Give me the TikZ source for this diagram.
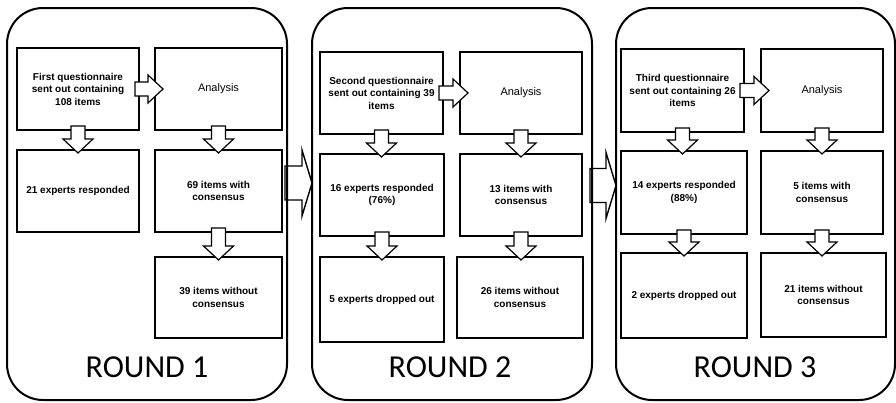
\documentclass[tikz,border=0pt]{standalone}
\usepackage{fontspec}
\setmainfont{Liberation Sans}
\newfontfamily\roundfont{Carlito}
\usetikzlibrary{calc,backgrounds}
\tikzset{
  roundbox/.style={draw, line width=2pt, rounded corners=36pt, inner sep=0pt, outer sep=0pt},
  stepbox/.style={draw, line width=1.2pt, inner sep=0pt, outer sep=0pt, align=center,
    font=\fontsize{10}{12.5}\selectfont\bfseries},
  plainbox/.style={stepbox, font=\fontsize{11}{12.5}\selectfont},
  blk/.style={draw, fill=white, line width=1.2pt, line join=miter},
  bigblk/.style={draw, fill=white, line width=1.4pt, line join=miter},
  roundlabel/.style={font=\roundfont\fontsize{32}{32}\selectfont, inner sep=0pt}
}
\newcommand\dnarr[2]{%
  \draw[blk] let \p1=(#1.south), \p2=(#2.north) in
    (\x1-7pt,\y1+4pt) -- (\x1-7pt,\y2+11pt) -- (\x1-15pt,\y2+11pt) -- (\x1,\y2-3pt)
    -- (\x1+15pt,\y2+11pt) -- (\x1+7pt,\y2+11pt) -- (\x1+7pt,\y1+4pt) -- cycle;}
\newcommand\rtarr[2]{%
  \draw[blk] let \p1=(#1.east), \p2=(#2.west) in
    (\x1-4pt,\y1+7pt) -- (\x2-7pt,\y1+7pt) -- (\x2-7pt,\y1+14pt) -- (\x2+8pt,\y1)
    -- (\x2-7pt,\y1-14pt) -- (\x2-7pt,\y1-7pt) -- (\x1-4pt,\y1-7pt) -- cycle;}
\newcommand\bigarr[3]{%
  \draw[bigblk] let \p1=(#1.east), \p2=(#2.west) in
    (\x1-2pt,\y1+#3+17pt) -- (\x2-10pt,\y1+#3+17pt) -- (\x2-10pt,\y1+#3+33pt) -- (\x2,\y1+#3)
    -- (\x2-10pt,\y1+#3-33pt) -- (\x2-10pt,\y1+#3-17pt) -- (\x1-2pt,\y1+#3-17pt) -- cycle;}
\begin{document}
\begin{tikzpicture}[x=1pt,y=-1pt]
\useasboundingbox (0,0) rectangle (896,402);

% rounds
\node[roundbox, minimum width=280pt, minimum height=392pt] (R1) at (147,204) {};
\node[roundbox, minimum width=280pt, minimum height=392pt] (R2) at (452,204) {};
\node[roundbox, minimum width=279pt, minimum height=392pt] (R3) at (755.5,204) {};
\node[roundlabel] (L1) at (147,367) {ROUND 1};
\node[roundlabel] (L2) at (450,367) {ROUND 2};
\node[roundlabel] (L3) at (755,367) {ROUND 3};

\begin{scope}[on background layer]
\bigarr{R1}{R2}{21pt}
\bigarr{R2}{R3}{18.5pt}
\end{scope}

% round 1
\node[stepbox, minimum width=122pt, minimum height=82pt] (a1) at (78,89) {First questionnaire\\sent out containing\\108 items};
\node[plainbox, minimum width=127pt, minimum height=82pt] (b1) at (218.5,89) {Analysis};
\node[stepbox, minimum width=122pt, minimum height=82pt] (c1) at (78,191) {21 experts responded};
\node[stepbox, minimum width=127pt, minimum height=82pt] (d1) at (218.5,191) {69 items with\\consensus};
\node[stepbox, minimum width=127pt, minimum height=81pt] (e1) at (218.5,297.5) {39 items without\\consensus};

% round 2
\node[stepbox, minimum width=123pt, minimum height=82pt] (a2) at (381.5,93) {Second questionnaire\\sent out containing 39\\items};
\node[plainbox, minimum width=122pt, minimum height=82pt] (b2) at (521,93) {Analysis};
\node[stepbox, minimum width=124pt, minimum height=82pt] (c2) at (382,195) {16 experts responded\\(76\%)};
\node[stepbox, minimum width=122pt, minimum height=82pt] (d2) at (521,195) {13 items with\\consensus};
\node[stepbox, minimum width=124pt, minimum height=85pt] (e2) at (382,299.5) {5 experts dropped out};
\node[stepbox, minimum width=126pt, minimum height=81pt] (f2) at (520,297.5) {26 items without\\consensus};

% round 3
\node[stepbox, minimum width=123pt, minimum height=83pt] (a3) at (682.5,90.5) {Third questionnaire\\sent out containing 26\\items};
\node[plainbox, minimum width=122pt, minimum height=83pt] (b3) at (822,90.5) {Analysis};
\node[stepbox, minimum width=126pt, minimum height=83pt] (c3) at (684,192.5) {14 experts responded\\(88\%)};
\node[stepbox, minimum width=122pt, minimum height=83pt] (d3) at (822,192.5) {5 items with\\consensus};
\node[stepbox, minimum width=126pt, minimum height=85pt] (e3) at (684,295.5) {2 experts dropped out};
\node[stepbox, minimum width=125pt, minimum height=84pt] (f3) at (823.5,295) {21 items without\\consensus};

% small arrows
\rtarr{a1}{b1}
\dnarr{a1}{c1}
\dnarr{b1}{d1}
\dnarr{d1}{e1}
\rtarr{a2}{b2}
\dnarr{a2}{c2}
\dnarr{b2}{d2}
\dnarr{c2}{e2}
\dnarr{d2}{f2}
\rtarr{a3}{b3}
\dnarr{a3}{c3}
\dnarr{b3}{d3}
\dnarr{c3}{e3}
\dnarr{d3}{f3}
\end{tikzpicture}
\end{document}
